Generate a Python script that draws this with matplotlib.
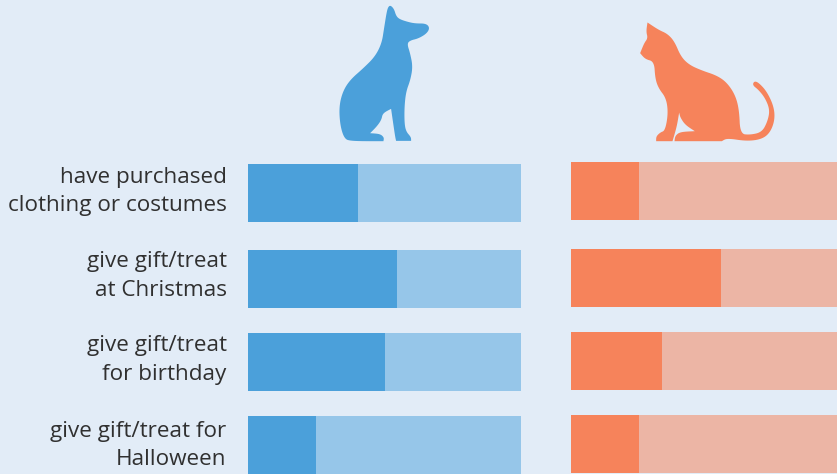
import numpy as np
import matplotlib
matplotlib.use("Agg")
import matplotlib.pyplot as plt
from matplotlib.path import Path
from matplotlib.patches import PathPatch

W, H = 837, 474
labels = ["have purchased\nclothing or costumes", "give gift/treat\nat Christmas",
          "give gift/treat\nfor birthday", "give gift/treat for\nHalloween"]
dog_values = [40.3, 54.6, 50, 25]
cat_values = [25, 55, 33.3, 25]
total = 100

BG = "#E2ECF7"
DOG, DOG_LIGHT = "#4BA0DA", "#96C6E9"
CAT, CAT_LIGHT = "#F6835B", "#ECB5A5"
TEXT = "#303030"

dog_tops = [164, 250, 333, 416]
cat_tops = [162, 249, 332, 415]
label_y = [191.5, 276, 360, 445]
BAR_H = 58
PANEL_W = 273

# Silhouette outlines; a repeated point marks a sharp corner
dog_outline = [(212,17),(222,28),(228,48),(238,58),(262,66),(285,71),(318,71),(329,84),(320,101),(295,116),
    (270,122),(261,132),(270,160),(278,200),(271,240),(258,275),(253,320),(253,370),(258,395),
    (273,412),(273,423),(273,423),(228,423),(228,423),(225,410),(213,327),(213,327),(188,340),(184,360),(170,380),
    (150,400),(150,400),(180,402),(192,413),(190,424),(190,424),(90,424),(72,415),(60,375),(57,320),(68,275),(90,240),
    (130,205),(165,170),(185,130),(192,85),(200,35),(205,20)]
cat_outline = [(52,38),(52,38),(85,60),(112,72),(133,95),(152,140),(177,165),(215,182),(260,197),(290,218),
    (315,255),(327,300),(330,372),(360,375),(395,367),(412,335),(419,300),(405,265),(385,240),(367,226),
    (372,214),(385,218),(410,245),(431,290),(434,330),(420,368),(395,388),(350,394),(290,385),(275,394),
    (275,394),(133,394),(133,394),(135,378),(150,366),(194,364),(194,364),(165,345),(150,322),(147,308),(147,308),(140,350),
    (127,394),(127,394),(78,394),(78,394),(78,380),(90,368),(105,362),(114,310),(108,265),(85,235),(75,205),(72,155),
    (45,148),(30,130),(30,130),(42,100),(53,85),(48,65)]


def smooth_closed(points, origin, passes=3):
    """Closed outline rounded by corner cutting; repeated points stay sharp."""
    pts, sharp = [], []
    for q in points:
        if pts and q == pts[-1]:
            sharp[-1] = True
        else:
            pts.append(q)
            sharp.append(False)
    p = [np.array(q, float) / 3 + origin for q in pts]
    for _ in range(passes):
        new_p, new_sharp = [], []
        n = len(p)
        for i in range(n):
            prev, nxt = p[i - 1], p[(i + 1) % n]
            if sharp[i]:
                new_p.append(p[i])
                new_sharp.append(True)
            else:
                new_p += [p[i] * 0.75 + prev * 0.25, p[i] * 0.75 + nxt * 0.25]
                new_sharp += [False, False]
        p, sharp = new_p, new_sharp
    p = np.array(p)
    return Path(np.vstack([p, p[0]]), closed=True)


fig = plt.figure(figsize=((W + 0.2) / 100, (H + 0.2) / 100), dpi=100, facecolor=BG)
ax = fig.add_axes([0, 0, 1, 1])
ax.set_xlim(0, W)
ax.set_ylim(H, 0)
ax.axis("off")

# Stacked bars: filled share plus the remainder of each 100% track
for values, tops, x0, dark, light in [(dog_values, dog_tops, 248, DOG, DOG_LIGHT),
                                      (cat_values, cat_tops, 571, CAT, CAT_LIGHT)]:
    scale = PANEL_W / total
    widths = np.array(values) * scale
    rest = (total - np.array(values)) * scale
    ax.barh(tops, widths, height=BAR_H, left=x0, align="edge", color=dark, linewidth=0)
    ax.barh(tops, rest, height=BAR_H, left=x0 + widths, align="edge", color=light, linewidth=0)

ax.add_patch(PathPatch(smooth_closed(dog_outline, (320, 0)), facecolor=DOG, edgecolor="none"))
ax.add_patch(PathPatch(smooth_closed(cat_outline, (630, 10)), facecolor=CAT, edgecolor="none"))

for text, y in zip(labels, label_y):
    ax.text(226.5, y, text, ha="right", va="center", color=TEXT, fontsize=16.2,
            family="Open Sans", linespacing=1.46)

fig.savefig("out.png", dpi=100, facecolor=BG)
